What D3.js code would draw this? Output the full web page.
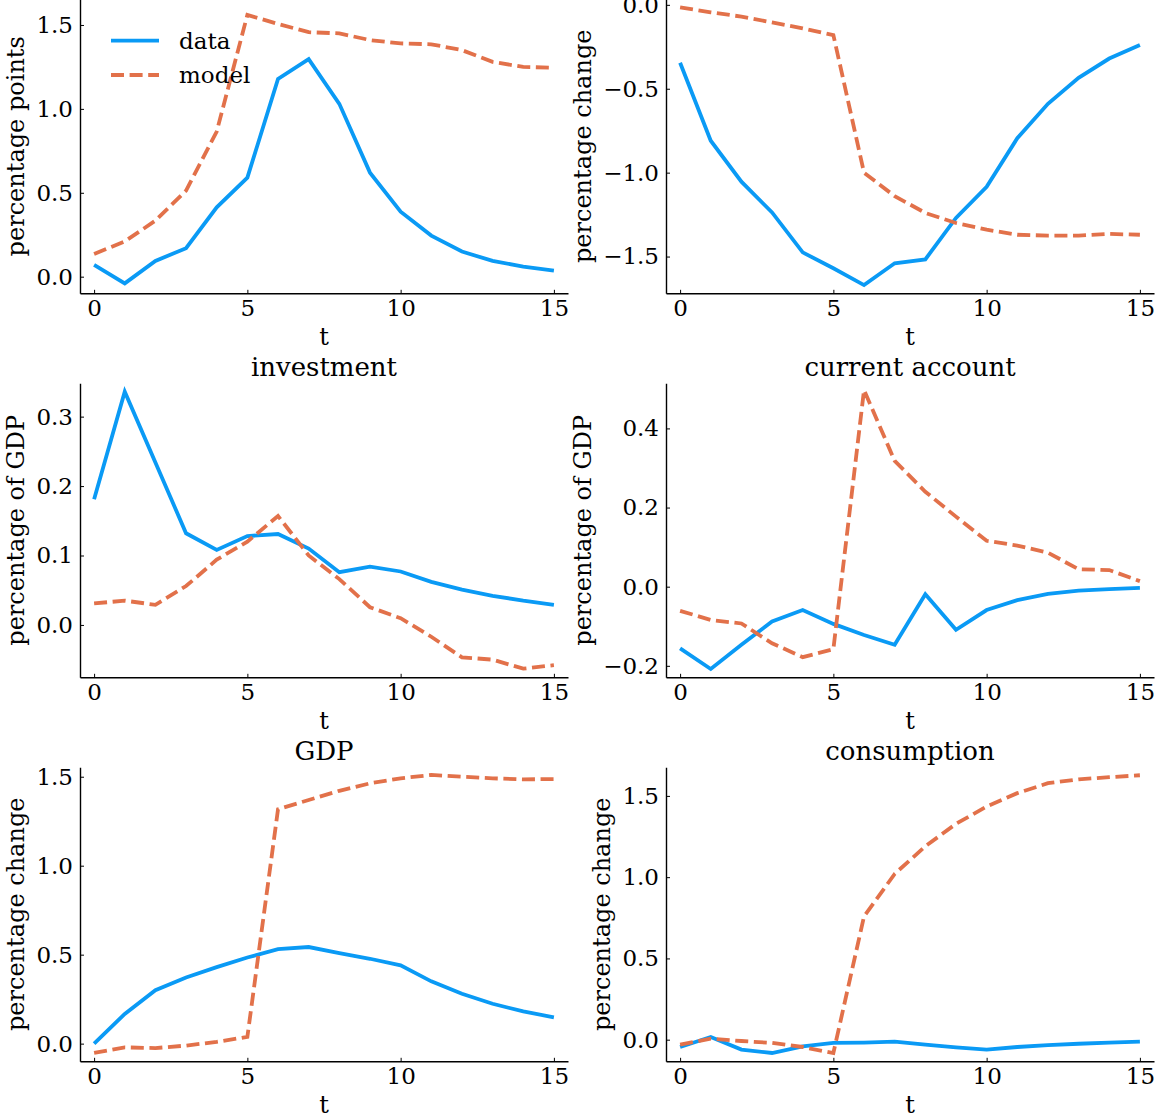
<!DOCTYPE html>
<html>
<head>
<meta charset="utf-8">
<script src="https://cdn.jsdelivr.net/npm/d3@7"></script>
<style>
  body { margin: 0; background: #fff; }
  text { font-family: "DejaVu Serif", serif; fill: #000; }
  .axis path, .axis line { stroke: #000; }
  .axis text { font-size: 23px; font-family: "DejaVu Serif", serif; }
</style>
</head>
<body>
<svg width="1163" height="1116"></svg>
<script>

var t = [0, 1, 2, 3, 4, 5, 6, 7, 8, 9, 10, 11, 12, 13, 14, 15];

// top left
var rateData  = [0.07, -0.04, 0.094, 0.17, 0.413, 0.59, 1.178, 1.296, 1.03, 0.62, 0.387, 0.245, 0.15, 0.094, 0.06, 0.036];
var rateModel = [0.135, 0.21, 0.334, 0.513, 0.865, 1.56, 1.506, 1.457, 1.45, 1.41, 1.39, 1.385, 1.35, 1.28, 1.25, 1.245];
// top right
var trData  = [-0.345, -0.81, -1.054, -1.237, -1.475, -1.57, -1.67, -1.54, -1.517, -1.27, -1.084, -0.795, -0.59, -0.435, -0.32, -0.24];
var trModel = [-0.015, -0.045, -0.07, -0.105, -0.14, -0.18, -1.0, -1.14, -1.24, -1.3, -1.34, -1.37, -1.375, -1.375, -1.365, -1.37];
// investment
var invData  = [0.181, 0.336, 0.234, 0.132, 0.108, 0.128, 0.131, 0.11, 0.076, 0.084, 0.077, 0.062, 0.051, 0.042, 0.035, 0.029];
var invModel = [0.031, 0.035, 0.029, 0.056, 0.094, 0.12, 0.157, 0.10, 0.066, 0.0255, 0.0097, -0.017, -0.0466, -0.05, -0.063, -0.058];
// current account
var caData  = [-0.156, -0.208, -0.147, -0.088, -0.059, -0.094, -0.122, -0.147, -0.019, -0.109, -0.059, -0.034, -0.018, -0.01, -0.006, -0.003];
var caModel = [-0.061, -0.084, -0.093, -0.143, -0.178, -0.158, 0.497, 0.318, 0.24, 0.177, 0.116, 0.104, 0.086, 0.044, 0.042, 0.014];
// GDP
var gdpData  = [0.0, 0.167, 0.30, 0.372, 0.43, 0.484, 0.531, 0.543, 0.509, 0.477, 0.44, 0.35, 0.28, 0.224, 0.181, 0.148];
var gdpModel = [-0.052, -0.021, -0.025, -0.011, 0.01, 0.038, 1.317, 1.369, 1.421, 1.463, 1.491, 1.51, 1.50, 1.491, 1.485, 1.487];
// consumption
var consData  = [-0.045, 0.017, -0.061, -0.082, -0.041, -0.02, -0.018, -0.012, -0.031, -0.047, -0.061, -0.045, -0.033, -0.025, -0.018, -0.012];
var consModel = [-0.031, 0.006, -0.008, -0.02, -0.045, -0.082, 0.758, 1.02, 1.19, 1.328, 1.435, 1.517, 1.578, 1.602, 1.615, 1.627];

var titles  = ["", "", "investment", "current account", "GDP", "consumption"];
var yLabels = ["percentage points", "percentage change", "percentage of GDP", "percentage of GDP", "percentage change", "percentage change"];
var yLimits = [[-0.099, 1.653], [-1.719, 0.033], [-0.0754, 0.348], [-0.229, 0.514], [-0.0993, 1.553], [-0.133, 1.676]];
var yTicks  = [[0, 0.5, 1, 1.5], [-1.5, -1, -0.5, 0], [0, 0.1, 0.2, 0.3], [-0.2, 0, 0.2, 0.4], [0, 0.5, 1, 1.5], [0, 0.5, 1, 1.5]];
var xTicks  = [0, 5, 10, 15];
var seriesNames = ["data", "model"];

var panels = [
  [rateData, rateModel], [trData, trModel],
  [invData, invModel], [caData, caModel],
  [gdpData, gdpModel], [consData, consModel]
];

var blue = "#0a9af5", orange = "#e2714a";

var svg = d3.select("svg"),
    colLeft = [80, 666],
    rowTop = [-0.7, 383.3, 767.3],
    width = 488,
    height = 294;

var x = d3.scaleLinear()
    .domain([-0.46, 15.46])
    .range([0, width]);

var fmt = d3.format(".1f");

panels.forEach(function(series, i) {
  var col = i % 2, row = Math.floor(i / 2);
  var g = svg.append("g")
      .attr("transform", "translate(" + colLeft[col] + "," + rowTop[row] + ")");

  var y = d3.scaleLinear()
      .domain(yLimits[i])
      .range([height, 0]);

  var xAxis = d3.axisBottom(x).tickValues(xTicks).tickSizeInner(-3.5).tickSizeOuter(0).tickPadding(6);
  var yAxis = d3.axisLeft(y).tickValues(yTicks[i]).tickFormat(fmt).tickSizeInner(-4).tickSizeOuter(0).tickPadding(7);

  var gx = g.append("g")
      .attr("class", "axis axis--x")
      .attr("transform", "translate(0," + height + ")")
      .call(xAxis);
  gx.select(".domain").attr("stroke-width", 1.4);
  gx.selectAll(".tick line").attr("stroke", "#555");

  var gy = g.append("g")
      .attr("class", "axis axis--y")
      .call(yAxis);
  gy.select(".domain").attr("stroke-width", 1.4);
  gy.selectAll(".tick line").attr("stroke", "#555");

  // y label sits left of the widest tick label
  var bb = gy.node().getBBox();
  g.append("text")
      .attr("transform", "translate(" + (bb.x - 12) + "," + (height / 2) + ") rotate(-90)")
      .attr("text-anchor", "middle")
      .style("font-size", "24px")
      .text(yLabels[i]);

  g.append("text")
      .attr("x", width / 2)
      .attr("y", height + 52)
      .attr("text-anchor", "middle")
      .style("font-size", "24px")
      .text("t");

  if (titles[i]) {
    g.append("text")
        .attr("x", width / 2)
        .attr("y", -7)
        .attr("text-anchor", "middle")
        .style("font-size", "26px")
        .text(titles[i]);
  }

  var line = d3.line()
      .x(function(d, j) { return x(t[j]); })
      .y(function(d) { return y(d); });

  g.append("path")
      .datum(series[0])
      .attr("fill", "none")
      .attr("stroke", blue)
      .attr("stroke-width", 3.8)
      .attr("d", line);

  g.append("path")
      .datum(series[1])
      .attr("fill", "none")
      .attr("stroke", orange)
      .attr("stroke-width", 3.8)
      .attr("stroke-dasharray", "13,5.6")
      .attr("d", line);

  if (i === 0) {
    var leg = g.append("g").attr("transform", "translate(31,41.4)");
    seriesNames.forEach(function(name, k) {
      leg.append("line")
          .attr("x1", 0).attr("x2", 48)
          .attr("y1", k * 34.3).attr("y2", k * 34.3)
          .attr("stroke", k === 0 ? blue : orange)
          .attr("stroke-width", 3.8)
          .attr("stroke-dasharray", k === 0 ? null : "13,5.6");
      leg.append("text")
          .attr("x", 68)
          .attr("y", k * 34.3 + 8)
          .style("font-size", "23px")
          .text(name);
    });
  }
});

</script>
</body>
</html>
